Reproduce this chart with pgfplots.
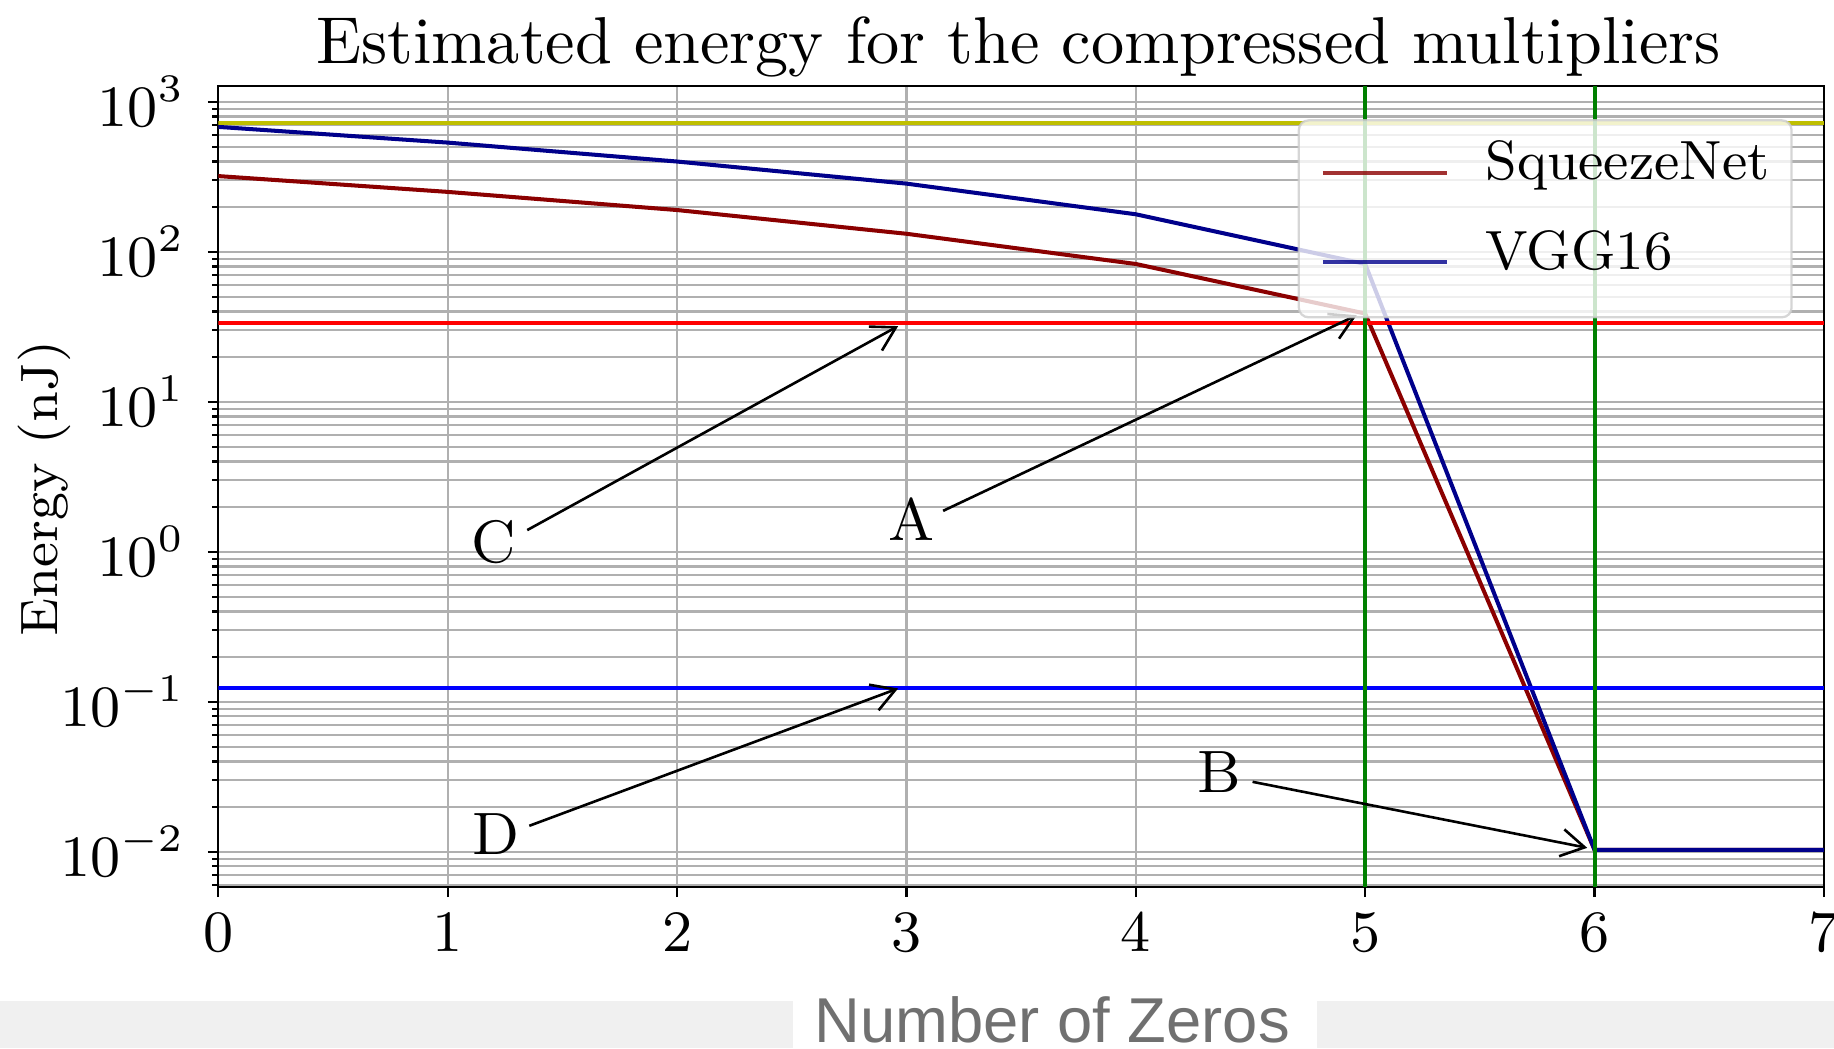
\documentclass[border=0pt]{standalone}
\usepackage{pgfplots}
\pgfplotsset{compat=1.18}
\usepackage{fontspec}
\newfontfamily\arialfont{Liberation Sans}
\usetikzlibrary{arrows.meta}

\definecolor{mplgrid}{RGB}{176,176,176}
\definecolor{sqzcolor}{RGB}{139,0,0}
\definecolor{vggcolor}{RGB}{0,0,139}
\definecolor{mplyellow}{RGB}{191,191,0}
\definecolor{mplgreen}{RGB}{0,128,0}
\definecolor{mplred}{RGB}{255,0,0}
\definecolor{mplblue}{RGB}{0,0,255}
\definecolor{bandgray}{RGB}{240,240,240}
\definecolor{labelgray}{RGB}{112,112,112}
\definecolor{legendedge}{RGB}{204,204,204}

% energy per network vs. number of zeros
\pgfplotstableread{
zeros energy
0 320
1 251
2 190
3 132
4 83
5 38.8
6 0.0103
7 0.0103
}\squeezenet
\pgfplotstableread{
zeros energy
0 681
1 535
2 400
3 285
4 178
5 83
6 0.0103
7 0.0103
}\vgg

\begin{document}
\begin{tikzpicture}
\begin{axis}[
  at={(0,0)}, anchor=south west,
  scale only axis,
  width=247.03pt, height=123.18pt,
  xmin=0, xmax=7,
  ymode=log,
  ymin=0.00585, ymax=1274,
  xtick={0,1,2,3,4,5,6,7},
  ytick={0.01,0.1,1,10,100,1000},
  minor ytick={0.006,0.007,0.008,0.009,
    0.02,0.03,0.04,0.05,0.06,0.07,0.08,0.09,
    0.2,0.3,0.4,0.5,0.6,0.7,0.8,0.9,
    2,3,4,5,6,7,8,9,
    20,30,40,50,60,70,80,90,
    200,300,400,500,600,700,800,900},
  grid=both,
  major grid style={mplgrid, line width=0.35pt},
  minor grid style={mplgrid, line width=0.35pt},
  tick align=outside,
  xtick pos=bottom, ytick pos=left,
  major tick length=1.6pt,
  minor tick length=0.9pt,
  every tick/.style={black, line width=0.35pt},
  axis line style={line width=0.35pt},
  xticklabel style={font=\fontsize{9.2}{11}\selectfont, yshift=0.9pt},
  yticklabel style={font=\fontsize{9}{11}\selectfont},
  legend cell align=left,
  legend image code/.code={\draw[#1, line width=0.62pt] (0pt,0.2pt) -- (19.1pt,0.2pt);},
  legend style={
    at={(rel axis cs:1,1)}, anchor=north east,
    xshift=-4.8pt, yshift=-5.1pt,
    draw=legendedge, line width=0.35pt, rounded corners=1.5pt,
    fill=white, fill opacity=0.8, draw opacity=0.8, text opacity=1,
    font=\fontsize{8.5}{10}\selectfont,
    inner xsep=3.4pt, inner ysep=4.4pt,
    nodes={inner sep=0pt, text height=4.75pt, text depth=2.95pt},
    column sep=5.6pt, row sep=6.1pt,
  },
]
\addplot[sqzcolor, line width=0.62pt] table[x=zeros, y=energy] {\squeezenet};
\addlegendentry{SqueezeNet}
\addplot[vggcolor, line width=0.62pt] table[x=zeros, y=energy] {\vgg};
\addlegendentry{VGG16}

% reference levels
\addplot[mplyellow, line width=0.62pt, forget plot] coordinates {(0,720) (7,720)};
\addplot[mplred, line width=0.62pt, forget plot] coordinates {(0,33.6) (7,33.6)};
\addplot[mplblue, line width=0.62pt, forget plot] coordinates {(0,0.124) (7,0.124)};
\addplot[mplgreen, line width=0.62pt, forget plot] coordinates {(5,0.001) (5,10000)};
\addplot[mplgreen, line width=0.62pt, forget plot] coordinates {(6,0.001) (6,10000)};

% annotations
\begin{scope}[line width=0.4pt, -{Straight Barb[length=3.6pt,width=4.2pt]}]
\draw (axis cs:1.347,1.396) -- (axis cs:2.964,32.0);
\draw (axis cs:1.356,0.01491) -- (axis cs:2.964,0.1228);
\draw (axis cs:3.160,1.876) -- (axis cs:4.963,37.8);
\draw (axis cs:4.509,0.02929) -- (axis cs:5.968,0.01063);
\end{scope}
\begin{scope}[every node/.style={anchor=base, inner sep=0pt, font=\fontsize{9.2}{11}\selectfont}]
\node at (axis cs:1.202,0.853) {C};
\node at (axis cs:1.210,0.00966) {D};
\node at (axis cs:3.024,1.197) {A};
\node at (axis cs:4.364,0.02472) {B};
\end{scope}
\end{axis}

\node[anchor=base, inner sep=0pt, font=\fontsize{10.2}{12}\selectfont]
  at (123.1pt,126.68pt) {Estimated energy for the compressed multipliers};
\node[rotate=90, inner sep=0pt, font=\fontsize{8.1}{10}\selectfont]
  at (-26.8pt,61.26pt) {Energy (nJ)};

% caption strip below the axis
\fill[bandgray] (-33.58pt,-24.82pt) rectangle (88.42pt,-17.58pt);
\fill[bandgray] (169.03pt,-24.82pt) rectangle (248.57pt,-17.58pt);
\node[anchor=base west, inner sep=0pt, text=labelgray, font=\arialfont\fontsize{9.75}{11}\selectfont]
  at (91.5pt,-23.97pt) {Number of Zeros};

\pgfresetboundingbox
\useasboundingbox (-33.58pt,-24.82pt) rectangle (248.57pt,136.42pt);
\end{tikzpicture}
\end{document}
